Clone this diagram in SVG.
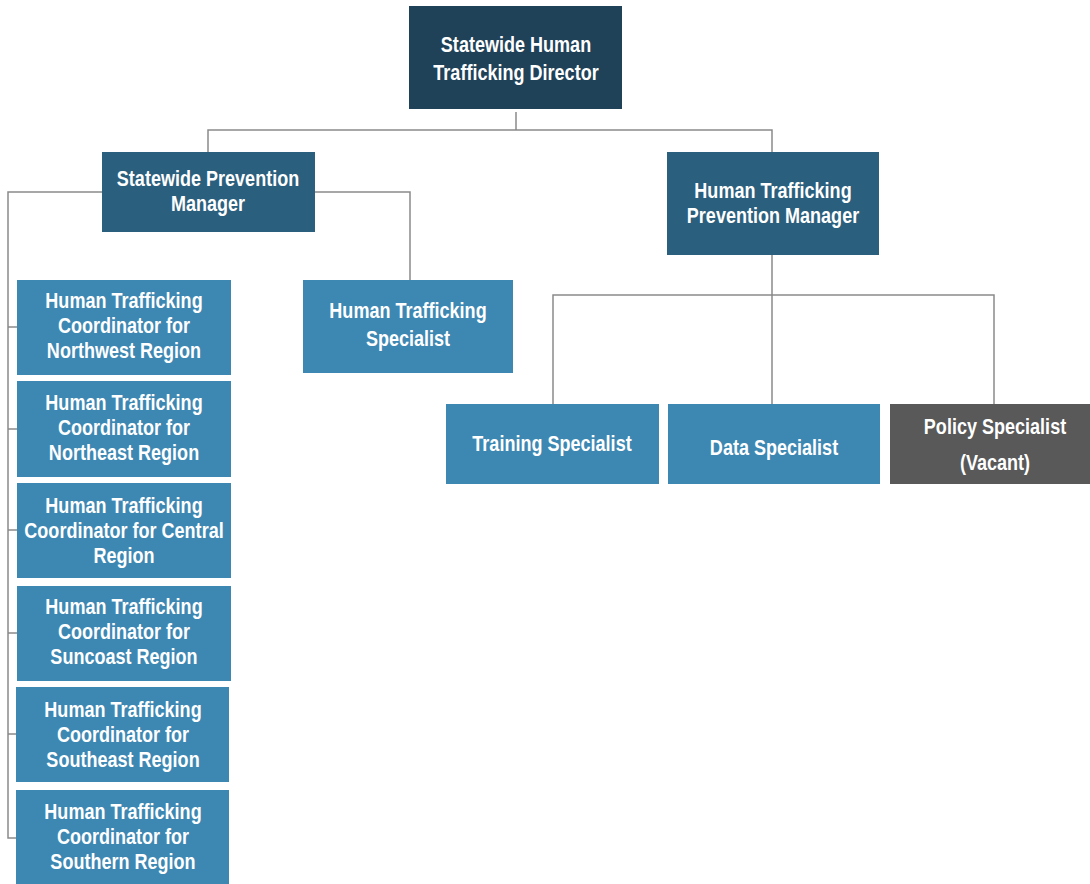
<svg xmlns="http://www.w3.org/2000/svg" width="1090" height="884" viewBox="0 0 1090 884">
<style>
text{font-family:"Liberation Sans",Arial,sans-serif;font-weight:bold;font-size:22px;fill:#fff;text-anchor:middle}
.dark{fill:#1f4259}
.mid{fill:#2b5f7e}
.light{fill:#3d88b3}
.grey{fill:#595959}
.c{fill:none;stroke:#8a8a8a;stroke-width:1.5}
</style>
<rect width="1090" height="884" fill="#fff"/>
<g id="connectors">
<path class="c" d="M516 112V130M208 152V130H772V152"/>
<path class="c" d="M102 192H8V838H16M8 327H17M8 429H17M8 530H17M8 633H17M8 734H16"/>
<path class="c" d="M315 192H410V280"/>
<path class="c" d="M772 255V404M553 404V295H994V404"/>
</g>
<g id="director"><rect class="dark" x="409" y="6" width="213" height="103"/><text transform="matrix(0.82 0 0 1 516 52)">Statewide Human</text><text transform="matrix(0.82 0 0 1 516 80)">Trafficking Director</text></g>
<g id="spm"><rect class="mid" x="102" y="152" width="213" height="80"/><text transform="matrix(0.82 0 0 1 208 186)">Statewide Prevention</text><text transform="matrix(0.82 0 0 1 208 211)">Manager</text></g>
<g id="htpm"><rect class="mid" x="667" y="152" width="212" height="103"/><text transform="matrix(0.82 0 0 1 773 198)">Human Trafficking</text><text transform="matrix(0.82 0 0 1 773 223)">Prevention Manager</text></g>
<g id="hts"><rect class="light" x="303" y="280" width="210" height="93"/><text transform="matrix(0.82 0 0 1 408 318)">Human Trafficking</text><text transform="matrix(0.82 0 0 1 408 346)">Specialist</text></g>
<g id="training"><rect class="light" x="446" y="404" width="213" height="80"/><text transform="matrix(0.82 0 0 1 552 451)">Training Specialist</text></g>
<g id="data"><rect class="light" x="668" y="404" width="212" height="80"/><text transform="matrix(0.82 0 0 1 774 455)">Data Specialist</text></g>
<g id="policy"><rect class="grey" x="890" y="404" width="200" height="80"/><text transform="matrix(0.82 0 0 1 995 434)">Policy Specialist</text><text transform="matrix(0.82 0 0 1 995 470)">(Vacant)</text></g>
<g id="nw"><rect class="light" x="17" y="280" width="214" height="95"/><text transform="matrix(0.82 0 0 1 124 308)">Human Trafficking</text><text transform="matrix(0.82 0 0 1 124 333)">Coordinator for</text><text transform="matrix(0.82 0 0 1 124 358)">Northwest Region</text></g>
<g id="ne"><rect class="light" x="17" y="381" width="214" height="96"/><text transform="matrix(0.82 0 0 1 124 410)">Human Trafficking</text><text transform="matrix(0.82 0 0 1 124 435)">Coordinator for</text><text transform="matrix(0.82 0 0 1 124 460)">Northeast Region</text></g>
<g id="central"><rect class="light" x="17" y="483" width="214" height="95"/><text transform="matrix(0.82 0 0 1 124 513)">Human Trafficking</text><text transform="matrix(0.82 0 0 1 124 538)">Coordinator for Central</text><text transform="matrix(0.82 0 0 1 124 563)">Region</text></g>
<g id="suncoast"><rect class="light" x="17" y="586" width="214" height="95"/><text transform="matrix(0.82 0 0 1 124 614)">Human Trafficking</text><text transform="matrix(0.82 0 0 1 124 639)">Coordinator for</text><text transform="matrix(0.82 0 0 1 124 664)">Suncoast Region</text></g>
<g id="southeast"><rect class="light" x="16" y="687" width="213" height="95"/><text transform="matrix(0.82 0 0 1 123 717)">Human Trafficking</text><text transform="matrix(0.82 0 0 1 123 742)">Coordinator for</text><text transform="matrix(0.82 0 0 1 123 767)">Southeast Region</text></g>
<g id="southern"><rect class="light" x="16" y="790" width="213" height="94"/><text transform="matrix(0.82 0 0 1 123 819)">Human Trafficking</text><text transform="matrix(0.82 0 0 1 123 844)">Coordinator for</text><text transform="matrix(0.82 0 0 1 123 869)">Southern Region</text></g>
</svg>
